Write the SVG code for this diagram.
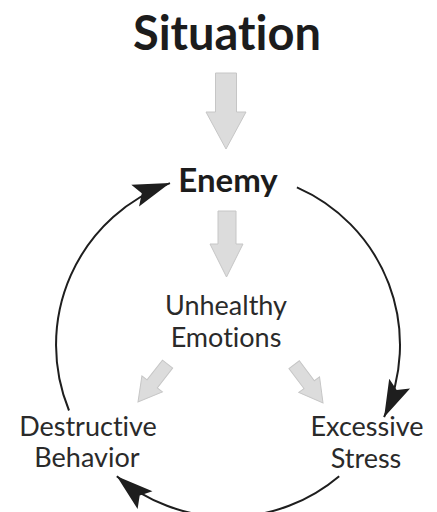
<svg xmlns="http://www.w3.org/2000/svg" width="437" height="512" viewBox="0 0 437 512">
  <style>
    .title { font-family: Lato, "Open Sans", "Liberation Sans", sans-serif; font-weight: bold; fill: #1c1c1c; text-anchor: middle; font-variant-ligatures: none; }
    .label { font-family: Lato, "Open Sans", "Liberation Sans", sans-serif; font-weight: normal; fill: #2a2a2a; text-anchor: middle; font-size: 27px; font-variant-ligatures: none; }
    .garrow { fill: #dcdcdc; stroke: #c6c6c6; stroke-width: 1; stroke-linejoin: miter; }
    .cycle { fill: none; stroke: #1e1e1e; stroke-width: 2; }
  </style>
  <defs>
    <marker id="head" markerUnits="userSpaceOnUse" markerWidth="44" markerHeight="28" viewBox="-40 -14 42 28" refX="0" refY="0" orient="auto">
      <path d="M0,0 L-37,-11.5 L-30,0 L-37,11.5 Z" fill="#1e1e1e"/>
    </marker>
  </defs>
  <rect width="437" height="512" fill="#ffffff"/>

  <g id="situation">
    <text class="title" x="227" y="50" font-size="47">Situation</text>
  </g>
  <g id="enemy">
    <text class="title" x="228" y="192" font-size="33">Enemy</text>
  </g>
  <g id="unhealthy-emotions">
    <text class="label" x="226" y="315">Unhealthy</text>
    <text class="label" x="226" y="347">Emotions</text>
  </g>
  <g id="destructive-behavior">
    <text class="label" x="88" y="436">Destructive</text>
    <text class="label" x="87" y="467">Behavior</text>
  </g>
  <g id="excessive-stress">
    <text class="label" x="367" y="436">Excessive</text>
    <text class="label" x="366" y="468">Stress</text>
  </g>

  <g id="connectors">
    <path class="garrow" d="M215.5,73 L236.5,73 L236.5,112 L246,112 L226,149 L206,112 L215.5,112 Z"/>
    <path class="garrow" d="M218,211 L236,211 L236,244 L243,244 L226.5,277 L210,244 L218,244 Z"/>
    <path class="garrow" transform="translate(138,402) rotate(38)" d="M-6.5,-48 L6.5,-48 L6.5,-23 L13,-23 L0,0 L-13,-23 L-6.5,-23 Z"/>
    <path class="garrow" transform="translate(323,403) rotate(-37)" d="M-6.5,-48 L6.5,-48 L6.5,-23 L13,-23 L0,0 L-13,-23 L-6.5,-23 Z"/>
    <path class="cycle" marker-end="url(#head)" d="M296.9,187.4 A172,172 0 0 1 384.1,417.2"/>
    <path class="cycle" marker-end="url(#head)" d="M339.2,476.2 A172,172 0 0 1 116.8,476.2"/>
    <path class="cycle" marker-end="url(#head)" d="M69,410.5 A172,172 0 0 1 170,183.1"/>
  </g>
</svg>
